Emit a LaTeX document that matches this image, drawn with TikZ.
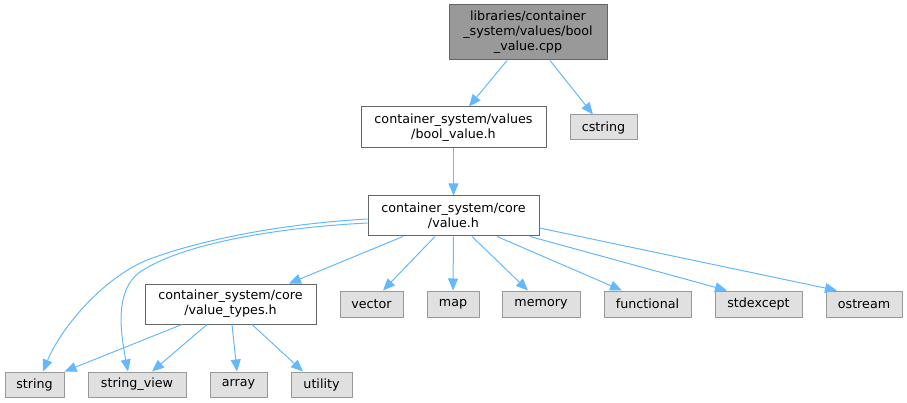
\documentclass[tikz,border=0pt]{standalone}
\usepackage{fontspec}
\setmainfont{DejaVu Sans}
\usetikzlibrary{arrows.meta}
\definecolor{edgec}{HTML}{63B8FF}
\definecolor{extfill}{HTML}{E0E0E0}
\definecolor{extdraw}{HTML}{999999}
\definecolor{rootfill}{HTML}{999999}
\definecolor{nodedraw}{HTML}{666666}
\tikzset{
  box/.style={draw=nodedraw, fill=white, line width=1pt, inner sep=0pt, align=center,
    font=\fontsize{12.7}{15}\selectfont},
  rootbox/.style={box, fill=rootfill},
  extbox/.style={box, draw=extdraw, fill=extfill},
  dep/.style={color=edgec, line width=1pt, -{Triangle[length=12pt,width=10pt]}},
}
\begin{document}
\begin{tikzpicture}[x=1pt,y=-1pt]
\useasboundingbox (0,0) rectangle (907,403);
\node[rootbox, minimum width=158pt, minimum height=55pt] (root) at (528,32.5) {libraries/container\\\_system/values/bool\\\_value.cpp};
\node[box, minimum width=185pt, minimum height=41pt] (boolh) at (453.5,127.5) {container\_system/values\\/bool\_value.h};
\node[extbox, minimum width=67pt, minimum height=25pt] (cstring) at (603.5,127.5) {cstring};
\node[box, minimum width=171pt, minimum height=40pt] (valueh) at (453.5,216) {container\_system/core\\/value.h};
\node[box, minimum width=171pt, minimum height=40pt] (vtypes) at (230.5,304) {container\_system/core\\/value\_types.h};
\node[extbox, minimum width=63pt, minimum height=26pt] (vector) at (371.5,304) {vector};
\node[extbox, minimum width=52pt, minimum height=26pt] (map) at (453,304) {map};
\node[extbox, minimum width=78pt, minimum height=26pt] (memory) at (541,304) {memory};
\node[extbox, minimum width=87pt, minimum height=26pt] (functional) at (647.5,304) {functional};
\node[extbox, minimum width=87pt, minimum height=26pt] (stdexcept) at (758.5,304) {stdexcept};
\node[extbox, minimum width=76pt, minimum height=26pt] (ostream) at (864,304) {ostream};
\node[extbox, minimum width=59pt, minimum height=25pt] (string) at (34.5,384.5) {string};
\node[extbox, minimum width=98pt, minimum height=25pt] (stringview) at (137,384.5) {string\_view};
\node[extbox, minimum width=57pt, minimum height=25pt] (array) at (238.5,384.5) {array};
\node[extbox, minimum width=61pt, minimum height=25pt] (utility) at (321.5,384.5) {utility};

\draw[dep] ([xshift=-21pt]root.south) -- ([xshift=15.5pt]boolh.north);
\draw[dep] ([xshift=22pt]root.south) -- ([xshift=-10.5pt]cstring.north);
\draw[dep] (boolh.south) -- (valueh.north);
\draw[dep] ([xshift=-50.5pt]valueh.south) -- ([xshift=58.5pt]vtypes.north);
\draw[dep] ([xshift=-18.5pt]valueh.south) -- ([xshift=11.5pt]vector.north);
\draw[dep] (valueh.south) -- (map.north);
\draw[dep] ([xshift=18.5pt]valueh.south) -- ([xshift=-13pt]memory.north);
\draw[dep] ([xshift=43.5pt]valueh.south) -- ([xshift=-25.5pt]functional.north);
\draw[dep] ([xshift=76.5pt]valueh.south) -- ([xshift=-31.5pt]stdexcept.north);
\draw[dep] ([yshift=-12pt]valueh.east) -- ([xshift=-27pt]ostream.north);
\draw[dep] ([yshift=-3pt]valueh.west) .. controls (280,224) and (200,240) .. (147,260)
  .. controls (100,280) and (60,330) .. ([xshift=8.5pt]string.north);
\draw[dep] ([yshift=-7pt]valueh.west) .. controls (270,228) and (180,245) .. (140,272)
  .. controls (115,290) and (120,330) .. ([xshift=-9pt]stringview.north);
\draw[dep] ([xshift=-48.5pt]vtypes.south) -- (string.north east);
\draw[dep] ([xshift=-23.5pt]vtypes.south) -- ([xshift=15pt]stringview.north);
\draw[dep] ([xshift=1.5pt]vtypes.south) -- ([xshift=-1.5pt]array.north);
\draw[dep] ([xshift=21.5pt]vtypes.south) -- ([xshift=-18.5pt]utility.north);
\end{tikzpicture}
\end{document}
